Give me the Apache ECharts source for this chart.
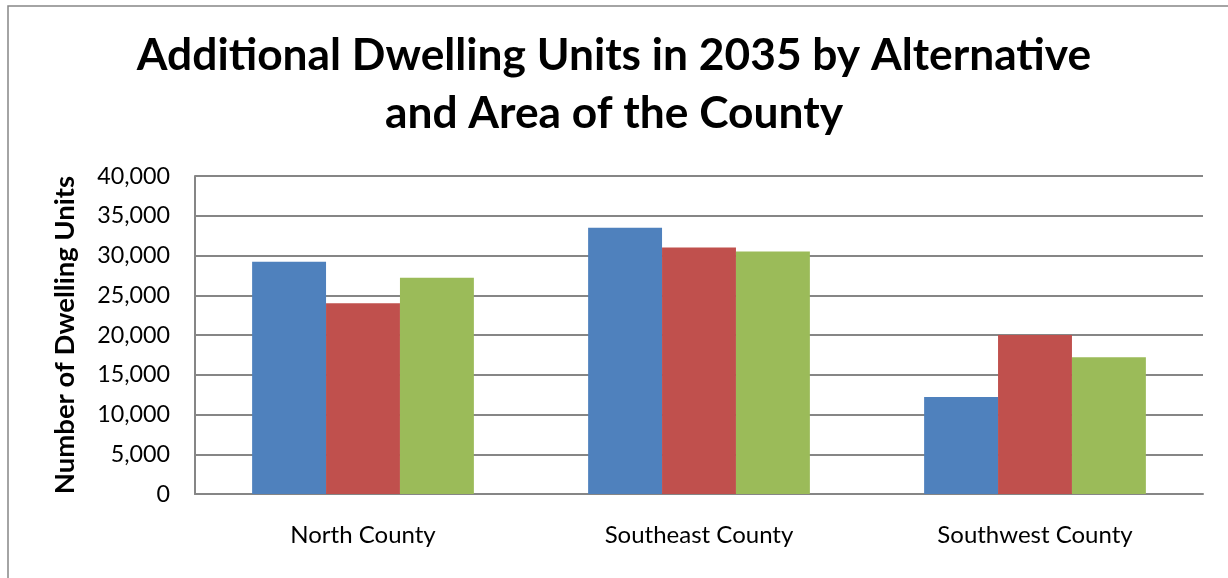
<!DOCTYPE html>
<html>
<head>
<meta charset="utf-8">
<script src="https://cdn.jsdelivr.net/npm/echarts@6/dist/echarts.min.js"></script>
<style>
html,body{margin:0;padding:0;background:#fff;}
#chart{width:1228px;height:578px;}
</style>
</head>
<body>
<div id="chart"></div>
<script>
const categories = ['North County', 'Southeast County', 'Southwest County'];
const seriesNames = ['Alternative 1', 'Alternative 2', 'Alternative 3'];
const alt1 = [29200, 33500, 12200];
const alt2 = [24000, 31000, 20000];
const alt3 = [27200, 30500, 17200];
const colors = ['#4F81BD', '#C0504D', '#9BBB59'];

const FONT = 'Lato';
const chart = echarts.init(document.getElementById('chart'));
const dataSets = [alt1, alt2, alt3];
chart.setOption({
  animation: false,
  backgroundColor: '#fff',
  title: {
    text: 'Additional Dwelling Units in 2035 by Alternative\nand Area of the County',
    left: 'center',
    top: 22,
    textStyle: { fontFamily: FONT, fontWeight: 'bold', fontSize: 44.3, lineHeight: 58, color: '#000' }
  },
  graphic: [{
    type: 'rect',
    shape: { x: 8, y: 6, width: 1400, height: 800 },
    style: { fill: 'none', stroke: '#868686', lineWidth: 1.5 },
    silent: true
  }],
  grid: { left: 195, right: 25, top: 176, bottom: 84 },
  xAxis: {
    type: 'category',
    data: categories,
    axisLine: { lineStyle: { color: '#868686', width: 2 } },
    axisTick: { show: false },
    axisLabel: { fontFamily: FONT, fontSize: 24, color: '#000', margin: 29 }
  },
  yAxis: {
    type: 'value',
    min: 0, max: 40000, interval: 5000,
    name: 'Number of Dwelling Units',
    nameLocation: 'middle',
    nameRotate: 90,
    nameGap: 116,
    nameTextStyle: { fontFamily: FONT, fontWeight: 'bold', fontSize: 27.5, color: '#000' },
    axisLine: { show: true, lineStyle: { color: '#868686', width: 2 } },
    axisTick: { show: false },
    splitLine: { lineStyle: { color: '#868686', width: 2 } },
    axisLabel: {
      fontFamily: FONT, fontSize: 23.3, color: '#000', margin: 25,
      formatter: v => v.toLocaleString('en-US')
    }
  },
  series: dataSets.map((d, i) => ({
    name: seriesNames[i],
    type: 'bar',
    data: d,
    barGap: '0%',
    barCategoryGap: '34%',
    itemStyle: { color: colors[i] }
  }))
});
</script>
</body>
</html>
